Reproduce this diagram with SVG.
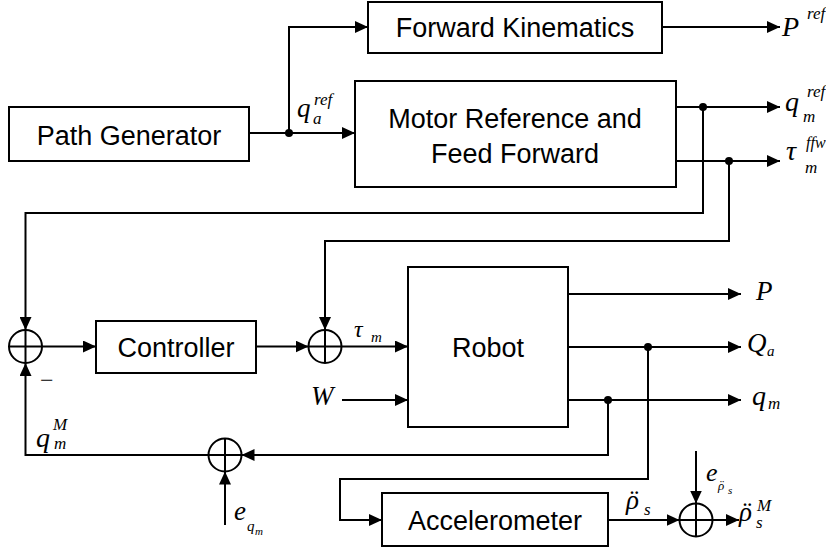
<svg xmlns="http://www.w3.org/2000/svg" width="826" height="552" viewBox="0 0 826 552">
  <style>
    .box { fill: #fff; stroke: #000; stroke-width: 2; }
    .lbl { font-family: "Liberation Sans", Arial, sans-serif; font-size: 27px; fill: #000; text-anchor: middle; }
    .arr { fill: none; stroke: #000; stroke-width: 2; marker-end: url(#ah); }
    .sum circle { fill: #fff; stroke: #000; stroke-width: 2; }
    .sum path { stroke: #000; stroke-width: 2; fill: none; }
    .dot { fill: #000; }
  </style>
  <defs>
    <marker id="ah" markerWidth="13" markerHeight="12" refX="13" refY="6" orient="auto" markerUnits="userSpaceOnUse">
      <path d="M0,0 L13,6 L0,12 Z" fill="#000"/>
    </marker>
  </defs>

  <rect width="826" height="552" fill="#fff"/>

  <!-- blocks -->
  <g id="path-generator">
    <rect class="box" x="9" y="107" width="240" height="54"/>
    <text class="lbl" x="129" y="145">Path Generator</text>
  </g>
  <g id="forward-kinematics">
    <rect class="box" x="368" y="2" width="294" height="51"/>
    <text class="lbl" x="515" y="37">Forward Kinematics</text>
  </g>
  <g id="motor-reference">
    <rect class="box" x="355" y="81" width="321" height="106"/>
    <text class="lbl" x="515" y="128">Motor Reference and</text>
    <text class="lbl" x="515" y="163">Feed Forward</text>
  </g>
  <g id="controller">
    <rect class="box" x="96" y="321" width="160" height="52"/>
    <text class="lbl" x="176" y="357">Controller</text>
  </g>
  <g id="robot">
    <rect class="box" x="408" y="267" width="160" height="160"/>
    <text class="lbl" x="488" y="357">Robot</text>
  </g>
  <g id="accelerometer">
    <rect class="box" x="382" y="493" width="226" height="53"/>
    <text class="lbl" x="495" y="530">Accelerometer</text>
  </g>

  <!-- summing junctions -->
  <g id="sum-error" class="sum">
    <circle cx="25.5" cy="346.5" r="16.5"/>
    <path d="M9,346.5 H42 M25.5,330 V363"/>
  </g>
  <g id="sum-torque" class="sum">
    <circle cx="325" cy="346.5" r="16.5"/>
    <path d="M308.5,346.5 H341.5 M325,330 V363"/>
  </g>
  <g id="sum-qm-noise" class="sum">
    <circle cx="225" cy="455" r="16.5"/>
    <path d="M208.5,455 H241.5 M225,438.5 V471.5"/>
  </g>
  <g id="sum-acc-noise" class="sum">
    <circle cx="696" cy="520" r="16.5"/>
    <path d="M679.5,520 H712.5 M696,503.5 V536.5"/>
  </g>

  <!-- connectors -->
  <g id="connectors">
    <path class="arr" d="M249,133 H355"/>
    <path class="arr" d="M289,133 V27 H368"/>
    <path class="arr" d="M662,27 H780"/>
    <path class="arr" d="M676,107 H780"/>
    <path class="arr" d="M676,161 H780"/>
    <path class="arr" d="M703,107 V213 H25.5 V330"/>
    <path class="arr" d="M729,161 V241 H325 V330"/>
    <path class="arr" d="M42,346.5 H96"/>
    <path class="arr" d="M256,346.5 H308.5"/>
    <path class="arr" d="M341.5,346.5 H408"/>
    <path class="arr" d="M342,400 H408"/>
    <path class="arr" d="M568,294 H741"/>
    <path class="arr" d="M568,347 H741"/>
    <path class="arr" d="M568,400 H741"/>
    <path class="arr" d="M608,400 V455 H241.5"/>
    <path class="arr" d="M208.5,455 H25.5 V363"/>
    <path class="arr" d="M225,525 V471.5"/>
    <path class="arr" d="M648,347 V479 H340 V520 H382"/>
    <path class="arr" d="M608,520 H679.5"/>
    <path class="arr" d="M696,451 V503.5"/>
    <path class="arr" d="M712.5,520 H739"/>
    <circle class="dot" cx="289" cy="133" r="4"/>
    <circle class="dot" cx="703" cy="107" r="4"/>
    <circle class="dot" cx="729" cy="161" r="4"/>
    <circle class="dot" cx="648" cy="347" r="4"/>
    <circle class="dot" cx="608" cy="400" r="4"/>
  </g>

  <!-- signal labels (italic math symbols) -->
  <g id="labels" fill="#000">
    <text x="297" y="117" font-family="Liberation Serif" font-style="italic" font-size="27">q</text>
    <text x="314" y="105" font-family="Liberation Serif" font-style="italic" font-size="17">ref</text>
    <text x="313" y="124" font-family="Liberation Serif" font-style="italic" font-size="17">a</text>

    <text x="782" y="36" font-family="Liberation Serif" font-style="italic" font-size="28">P</text>
    <text x="807" y="19" font-family="Liberation Serif" font-style="italic" font-size="17">ref</text>

    <text x="785" y="111" font-family="Liberation Serif" font-style="italic" font-size="28">q</text>
    <text x="807" y="97" font-family="Liberation Serif" font-style="italic" font-size="17">ref</text>
    <text x="803" y="122" font-family="Liberation Serif" font-style="italic" font-size="17">m</text>

    <text x="786" y="160" font-family="Liberation Serif" font-style="italic" font-size="28">τ</text>
    <text x="806" y="148" font-family="Liberation Serif" font-style="italic" font-size="16">ffw</text>
    <text x="805" y="173" font-family="Liberation Serif" font-style="italic" font-size="17">m</text>

    <text x="354" y="337" font-family="Liberation Serif" font-style="italic" font-size="24">τ</text>
    <text x="371" y="342" font-family="Liberation Serif" font-style="italic" font-size="15">m</text>

    <text x="311" y="405" font-family="Liberation Serif" font-style="italic" font-size="27">W</text>

    <text x="756" y="300" font-family="Liberation Serif" font-style="italic" font-size="27">P</text>
    <text x="747" y="352" font-family="Liberation Serif" font-style="italic" font-size="27">Q</text>
    <text x="767" y="356" font-family="Liberation Serif" font-style="italic" font-size="15">a</text>
    <text x="752" y="405" font-family="Liberation Serif" font-style="italic" font-size="28">q</text>
    <text x="768" y="409" font-family="Liberation Serif" font-style="italic" font-size="17">m</text>

    <text x="36" y="447" font-family="Liberation Serif" font-style="italic" font-size="28">q</text>
    <text x="53" y="430" font-family="Liberation Serif" font-style="italic" font-size="17">M</text>
    <text x="54" y="449" font-family="Liberation Serif" font-style="italic" font-size="17">m</text>
    <text x="40" y="388" font-family="Liberation Serif" font-size="24">−</text>

    <text x="234" y="520" font-family="Liberation Serif" font-style="italic" font-size="27">e</text>
    <text x="247" y="531" font-family="Liberation Serif" font-style="italic" font-size="15">q</text>
    <text x="255" y="535" font-family="Liberation Serif" font-style="italic" font-size="11">m</text>

    <text x="706" y="481" font-family="Liberation Serif" font-style="italic" font-size="26">e</text>
    <text x="718" y="490" font-family="Liberation Serif" font-style="italic" font-size="13">ρ</text>
    <text x="719" y="489" font-family="Liberation Serif" font-style="italic" font-size="13">¨</text>
    <text x="728" y="494" font-family="Liberation Serif" font-style="italic" font-size="11">s</text>

    <text x="626" y="509" font-family="Liberation Serif" font-style="italic" font-size="27">ρ</text>
    <text x="628" y="509" font-family="Liberation Serif" font-style="italic" font-size="27">¨</text>
    <text x="644" y="515" font-family="Liberation Serif" font-style="italic" font-size="17">s</text>

    <text x="739" y="521" font-family="Liberation Serif" font-style="italic" font-size="27">ρ</text>
    <text x="741" y="521" font-family="Liberation Serif" font-style="italic" font-size="27">¨</text>
    <text x="756" y="528" font-family="Liberation Serif" font-style="italic" font-size="17">s</text>
    <text x="757" y="511" font-family="Liberation Serif" font-style="italic" font-size="17">M</text>
  </g>
</svg>
